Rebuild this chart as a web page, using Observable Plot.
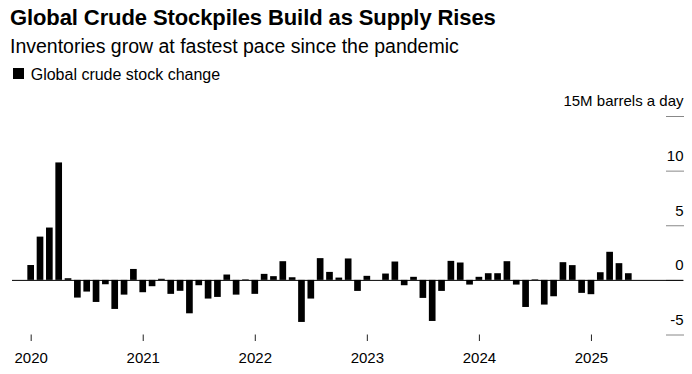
<!DOCTYPE html>
<html>
<head>
<meta charset="utf-8">
<script src="https://cdn.jsdelivr.net/npm/d3@7"></script>
<script src="https://cdn.jsdelivr.net/npm/@observablehq/plot@0.6"></script>
<style>
  html, body { margin: 0; padding: 0; background: #fff; }
  #wrap { position: relative; width: 692px; height: 374px; overflow: hidden; font-family: "Liberation Sans", Arial, sans-serif; color: #000; }
  .title { position: absolute; left: 10px; top: 7.4px; font-size: 22px; line-height: 22px; font-weight: bold; white-space: nowrap; letter-spacing: -0.1px; }
  .subtitle { position: absolute; left: 10px; top: 36.8px; font-size: 19.5px; line-height: 19.5px; white-space: nowrap; }
  .legend { position: absolute; left: 13.3px; top: 66.5px; font-size: 16px; line-height: 16px; white-space: nowrap; }
  .legend .sw { position: absolute; left: 0; top: 1.8px; width: 10.7px; height: 11px; background: #000; }
  .legend .lbl { position: absolute; left: 17.4px; top: 0; }
  #chart { position: absolute; left: 0; top: 86px; }
</style>
</head>
<body>
<div id="wrap">
  <div class="title">Global Crude Stockpiles Build as Supply Rises</div>
  <div class="subtitle">Inventories grow at fastest pace since the pandemic</div>
  <div class="legend"><span class="sw"></span><span class="lbl">Global crude stock change</span></div>
  <div id="chart"></div>
</div>
<script>
// Monthly global crude stock change, million barrels a day, Jan 2020 – May 2025
const startYear = 2020;
const values = [
  1.36, 3.96, 4.79, 10.75, 0.15, -1.62, -1.07, -2.02, -0.4, -2.66, -1.35, 1.0,
  -1.13, -0.58, 0.1, -1.28, -1.0, -3.06, -0.49, -1.71, -1.56, 0.49, -1.35, 0.05,
  -1.28, 0.55, 0.34, 1.71, 0.24, -3.85, -1.71, 1.99, 0.73, 0.21, 1.96, -1.01,
  0.37, 0, 0.58, 1.68, -0.49, 0.28, -1.65, -3.76, -1.01, 1.74, 1.59, -0.43,
  0.28, 0.61, 0.61, 1.71, -0.43, -2.48, 0.05, -2.26, -1.5, 1.62, 1.35, -1.19,
  -1.31, 0.7, 2.57, 1.53, 0.61
];
const yearLabels = ["2020", "2021", "2022", "2023", "2024", "2025"];
const yTicks = [-5, 0, 5, 10, 15];
const yUnit = "M barrels a day";

const data = values.map((v, i) => ({i, v}));
const yearTickPos = yearLabels.map((_, k) => k * 12);

const chart = Plot.plot({
  width: 692,
  height: 288,
  marginLeft: 12,
  marginRight: 27,
  marginTop: 30,
  marginBottom: 39.5,
  style: {fontFamily: "'Liberation Sans', Arial, sans-serif", fontSize: "15px", color: "#000", background: "transparent"},
  x: {type: "linear", domain: [-2, 67.93]},
  y: {domain: [-5, 15]},
  marks: [
    // right-side short tick lines
    Plot.axisY({
      anchor: "right", ticks: yTicks, tickSize: 18,
      stroke: "#888", strokeWidth: 1,
      tickFormat: () => "", label: null
    }),
    // right-side labels sitting above the tick lines
    Plot.axisY({
      anchor: "right", ticks: yTicks, tickSize: 0, tickPadding: 18,
      textAnchor: "end", dy: -15, fill: "#000", fontSize: 15,
      tickFormat: d => d === 15 ? d + yUnit : String(d),
      label: null
    }),
    Plot.axisX({
      ticks: yearTickPos, tickSize: 6.5, tickPadding: 11,
      tickFormat: (d) => yearLabels[d / 12], stroke: "#222",
      fontSize: 15, label: null, letterSpacing: 0.6
    }),
    Plot.rectY(data, {x1: d => d.i - 0.357, x2: d => d.i + 0.357, y1: 0, y2: "v", fill: "#000"}),
    Plot.ruleY([0], {stroke: "#000", strokeWidth: 1, insetRight: -18})
  ]
});
document.getElementById("chart").appendChild(chart);
</script>
</body>
</html>
